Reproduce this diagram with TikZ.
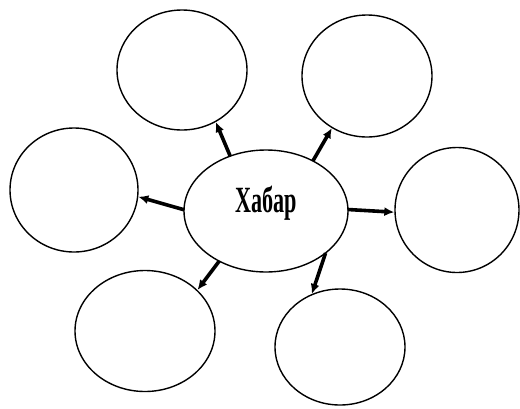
\documentclass[tikz,border=0pt]{standalone}
\usepackage{fontspec}
\setmainfont{Liberation Serif}
\usetikzlibrary{shapes.geometric,arrows.meta}
\begin{document}
\begin{tikzpicture}[x=1pt,y=-1pt,
  bub/.style={ellipse,draw=black,line width=1.4pt,inner sep=0pt},
  conn/.style={draw=black,line width=3.6pt,-{Latex[length=10pt,width=9pt]},shorten <=-1pt}]
\useasboundingbox (0,0) rectangle (520,408);
\node[bub,minimum width=164pt,minimum height=122pt] (h) at (266,211) {};
\node[anchor=base,font=\bfseries\fontsize{37}{40}\selectfont] (t) at (266,212) {\scalebox{0.6}[1]{Хабар}};
\node[bub,minimum width=130pt,minimum height=120pt] (tl) at (182,70) {};
\node[bub,minimum width=130pt,minimum height=122pt] (tr) at (367,76) {};
\node[bub,minimum width=128pt,minimum height=124pt] (l) at (74,190) {};
\node[bub,minimum width=124pt,minimum height=125pt] (r) at (457,210) {};
\node[bub,minimum width=140pt,minimum height=121pt] (bl) at (145,331) {};
\node[bub,minimum width=130pt,minimum height=116pt] (br) at (340,347) {};
\draw[conn] (h.123) -- (tl.-57);
\draw[conn] (h.47) -- (tr.-124);
\draw[conn] (h.179) -- (l.-6);
\draw[conn] (h.1) -- (r.182);
\draw[conn] (h.227) -- (bl.38);
\draw[conn] (h.-36) -- (br.118);
\end{tikzpicture}
\end{document}
